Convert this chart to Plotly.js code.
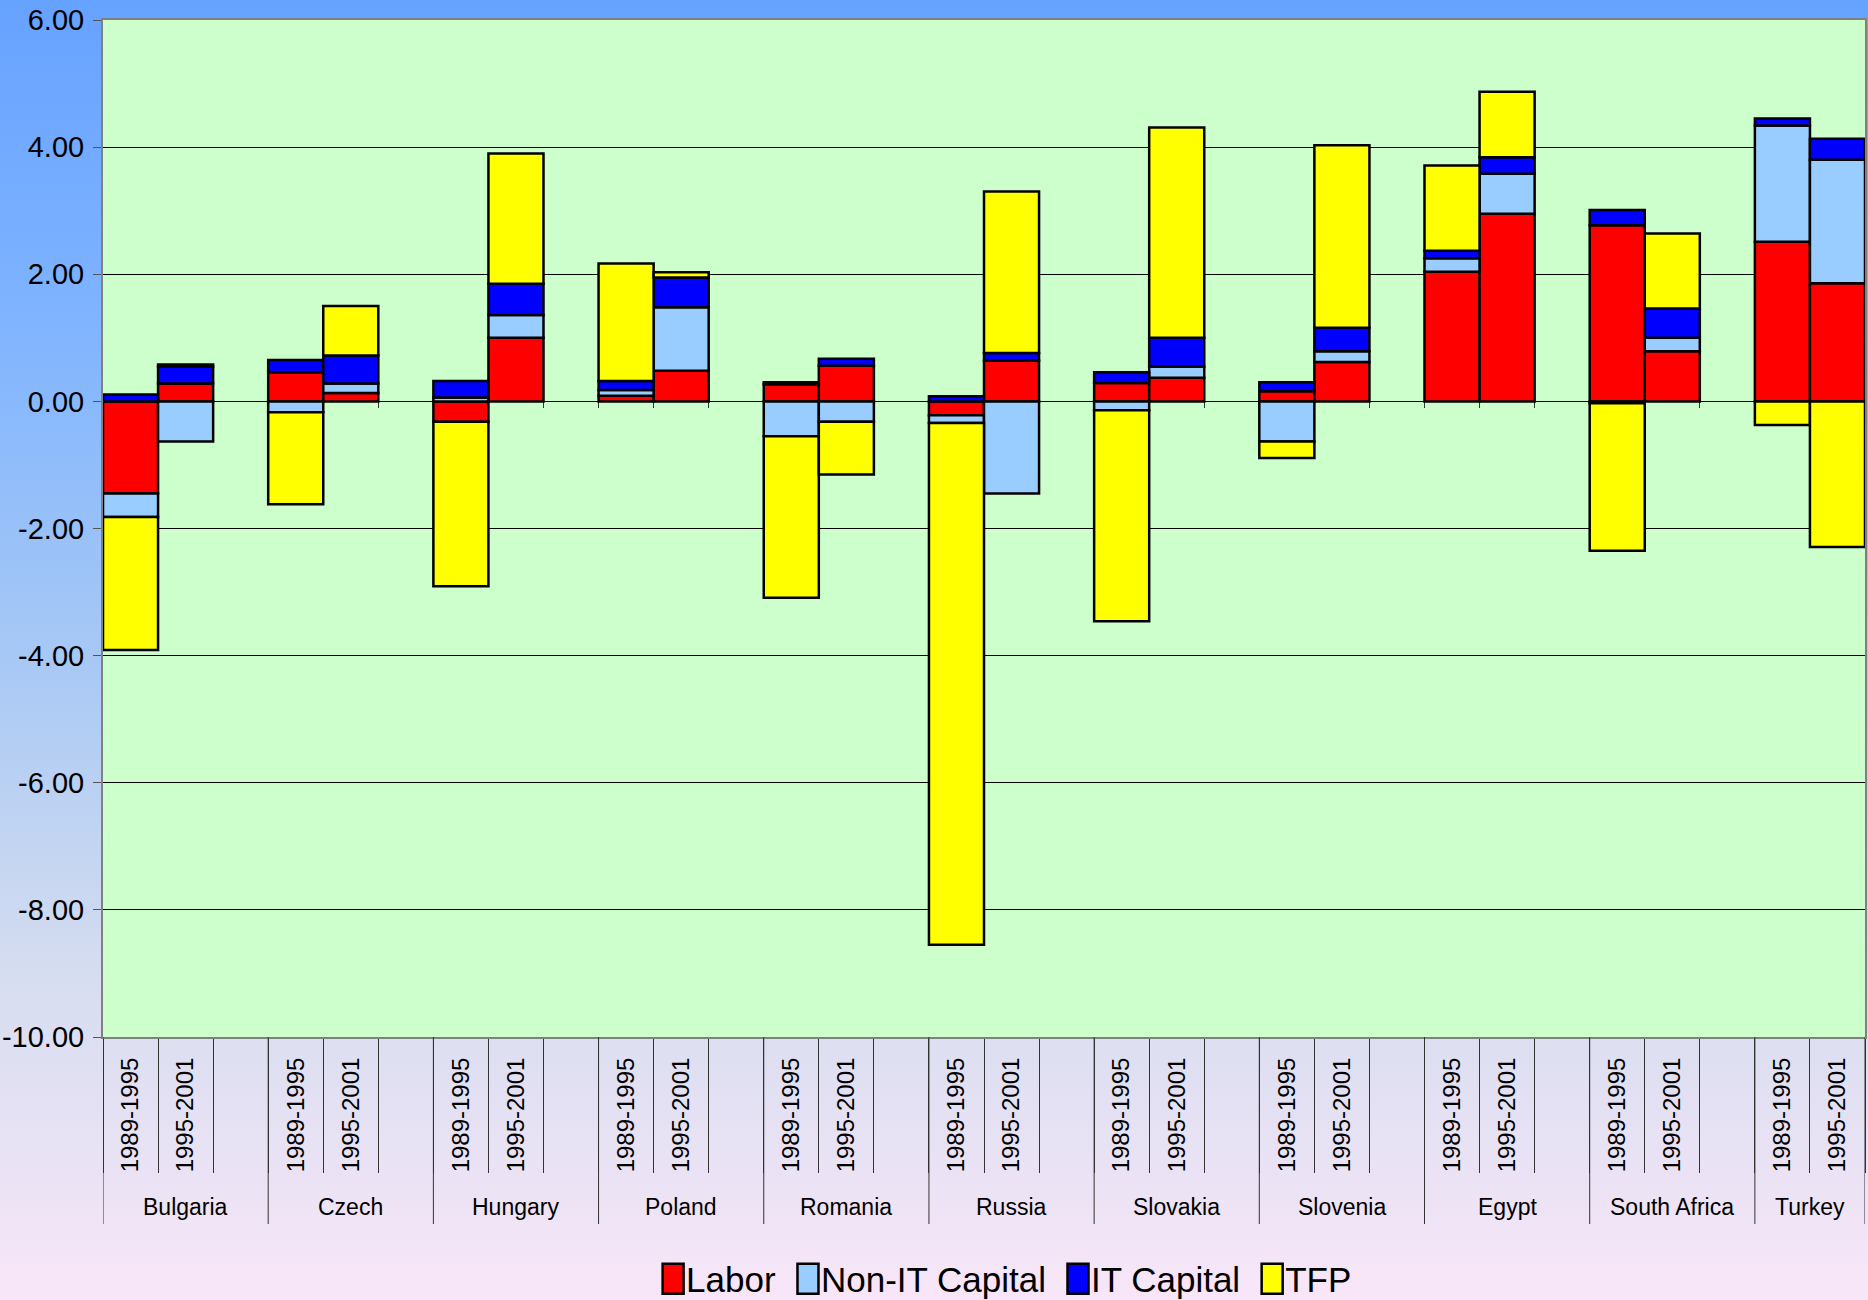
<!DOCTYPE html>
<html>
<head>
<meta charset="utf-8">
<script src="https://cdn.plot.ly/plotly-3.0.1.min.js"></script>
<style>
  html, body { margin: 0; padding: 0; }
  body {
    width: 1868px; height: 1300px; overflow: hidden;
    background: linear-gradient(to bottom, #66A2FF 0%, #80B4FF 25%, #A6C8F5 50%, #D6DDF0 75%, #F8E6F8 100%);
  }
  #chart { width: 1868px; height: 1300px; }
</style>
</head>
<body>
<div id="chart"></div>
<script>
// ---- data ----
const countries = ["Bulgaria", "Czech", "Hungary", "Poland", "Romania", "Russia",
                   "Slovakia", "Slovenia", "Egypt", "South Africa", "Turkey"];
const periods = ["1989-1995", "1995-2001"];
const seriesNames = ["Labor", "Non-IT Capital", "IT Capital", "TFP"];
// values in order: country by country, 1989-1995 then 1995-2001
const labor = [-1.45, 0.28,  0.46, 0.13,  -0.32, 1.00,  0.09, 0.48,  0.27, 0.56,
               -0.22, 0.64,  0.29, 0.37,  0.16, 0.62,  2.04, 2.95,  2.77, 0.79,  2.51, 1.86];
const nonIT = [-0.37, -0.63,  -0.17, 0.15,  0.06, 0.36,  0.09, 1.00,  -0.55, -0.32,
               -0.12, -1.45,  -0.14, 0.18,  -0.63, 0.17,  0.21, 0.63,  -0.03, 0.21,  1.83, 1.94];
const itCap = [0.11, 0.27,  0.19, 0.44,  0.26, 0.49,  0.14, 0.47,  0.03, 0.11,
               0.08, 0.12,  0.17, 0.45,  0.14, 0.37,  0.12, 0.26,  0.24, 0.46,  0.11, 0.33];
const tfp   = [-2.09, 0.03,  -1.45, 0.78,  -2.59, 2.05,  1.85, 0.08,  -2.54, -0.83,
               -8.21, 2.54,  -3.32, 3.31,  -0.26, 2.87,  1.34, 1.03,  -2.32, 1.18,  -0.37, -2.29];
const yTickVals = [-10, -8, -6, -4, -2, 0, 2, 4, 6];
const yTickText = ["-10.00", "-8.00", "-6.00", "-4.00", "-2.00", "0.00", "2.00", "4.00", "6.00"];
const colors = ["#FF0000", "#99CCFF", "#0000FF", "#FFFF00"];

// ---- category slots (two periods per country, a blank slot between countries) ----
const catIds = [], catText = [], barIds = [], groupStart = [], groupEnd = [];
countries.forEach((c, ci) => {
  groupStart.push(catIds.length);
  periods.forEach(p => { const id = c + " " + p; catIds.push(id); catText.push(p); barIds.push(id); });
  groupEnd.push(catIds.length - 1);
  if (ci < countries.length - 1) { catIds.push(c + " gap"); catText.push(""); }
});
const gapIds = catIds.filter(id => id.endsWith(" gap"));

function withGaps(vals) {
  return { x: barIds.concat(gapIds), y: vals.concat(gapIds.map(() => null)) };
}

const allVals = [labor, nonIT, itCap, tfp];
const traces = allVals.map((vals, i) => {
  const d = withGaps(vals);
  return {
    type: "bar", name: seriesNames[i], x: d.x, y: d.y,
    marker: { color: colors[i], line: { color: "#000000", width: 2.5 } },
    hoverinfo: "x+y+name"
  };
});
// invisible helper trace so the axis drawn along y = 0 (small boundary ticks) has categories
traces.push({
  type: "scatter", mode: "markers", x: catIds, y: catIds.map(() => null),
  xaxis: "x2", yaxis: "y", showlegend: false, hoverinfo: "skip"
});

// ---- fonts ----
const baseFont = '"Liberation Sans", Arial, sans-serif';

// ---- layout geometry ----
const W = 1868, H = 1300;
const mL = 103, mR = 3, mT = 20, mB = 263;
const plotH = H - mT - mB;
const pyPaper = px => (H - mB - px) / plotH;   // pixel row -> paper y
const yMin = yTickVals[0], yMax = yTickVals[yTickVals.length - 1];

const shapes = [];
const bounds = [groupStart[0] - 0.5].concat(groupEnd.map((e, i) => i < countries.length - 1 ? groupStart[i + 1] - 0.5 : e + 0.5));
bounds.forEach(b => shapes.push({
  type: "line", xref: "x", yref: "paper", x0: b, x1: b, y0: 0, y1: pyPaper(1224),
  line: { color: "#333333", width: 1 }
}));

const annotations = countries.map((c, i) => ({
  xref: "x", yref: "paper", x: (groupStart[i] + (i < countries.length - 1 ? groupEnd[i] + 1 : groupEnd[i])) / 2,
  y: pyPaper(1207), yanchor: "middle", xanchor: "center", showarrow: false,
  text: c, font: { family: baseFont, size: 23, color: "#000000" }
}));

const layout = {
  width: W, height: H,
  margin: { l: mL, r: mR, t: mT, b: mB, autoexpand: false },
  paper_bgcolor: "rgba(0,0,0,0)",
  plot_bgcolor: "#CCFFCC",
  barmode: "relative",
  bargap: 0,
  showlegend: true,
  legend: {
    orientation: "h", x: 0.51, xanchor: "center", y: pyPaper(1279), yanchor: "middle",
    font: { family: baseFont, size: 35, color: "#000000" },
    bgcolor: "rgba(0,0,0,0)", traceorder: "normal", itemclick: false
  },
  xaxis: {
    type: "category", categoryorder: "array", categoryarray: catIds,
    tickmode: "array", tickvals: catIds, ticktext: catText,
    range: [-0.5, catIds.length - 0.5],
    tickson: "boundaries", ticks: "outside", ticklen: 134, tickcolor: "#333333", tickwidth: 1,
    tickangle: -90, ticklabelstandoff: 9,
    tickfont: { family: baseFont, size: 24, color: "#000000" },
    showgrid: false, zeroline: false,
    showline: true, linecolor: "#808080", linewidth: 2, mirror: true
  },
  xaxis2: {
    type: "category", categoryorder: "array", categoryarray: catIds,
    overlaying: "x", anchor: "free", position: (0 - yMin) / (yMax - yMin),
    range: [-0.5, catIds.length - 0.5], layer: "below traces",
    tickson: "boundaries", ticks: "outside", ticklen: 6, tickcolor: "#333333", tickwidth: 1,
    showticklabels: false, showgrid: false, zeroline: false, showline: false
  },
  yaxis: {
    range: [yMin, yMax], tickmode: "array", tickvals: yTickVals, ticktext: yTickText,
    ticks: "outside", ticklen: 8, tickcolor: "#555555", tickwidth: 1,
    ticklabelstandoff: 3,
    tickfont: { family: baseFont, size: 29, color: "#000000" },
    showgrid: true, gridcolor: "#000000", gridwidth: 1,
    zeroline: true, zerolinecolor: "#000000", zerolinewidth: 1,
    showline: true, linecolor: "#808080", linewidth: 2, mirror: true
  },
  shapes: shapes,
  annotations: annotations
};

Plotly.newPlot("chart", traces, layout, { displayModeBar: false, staticPlot: true }).then(gd => {
  // enlarge legend swatches to look like the tall boxes in the original
  gd.querySelectorAll(".legend .legendpoints path").forEach(p => {
    const t = p.getAttribute("transform") || "";
    p.setAttribute("transform", t + " translate(7,0) scale(1.75,2.5)");
    p.setAttribute("vector-effect", "non-scaling-stroke");
    p.style.strokeWidth = "2.5px";
  });
});
</script>
</body>
</html>
